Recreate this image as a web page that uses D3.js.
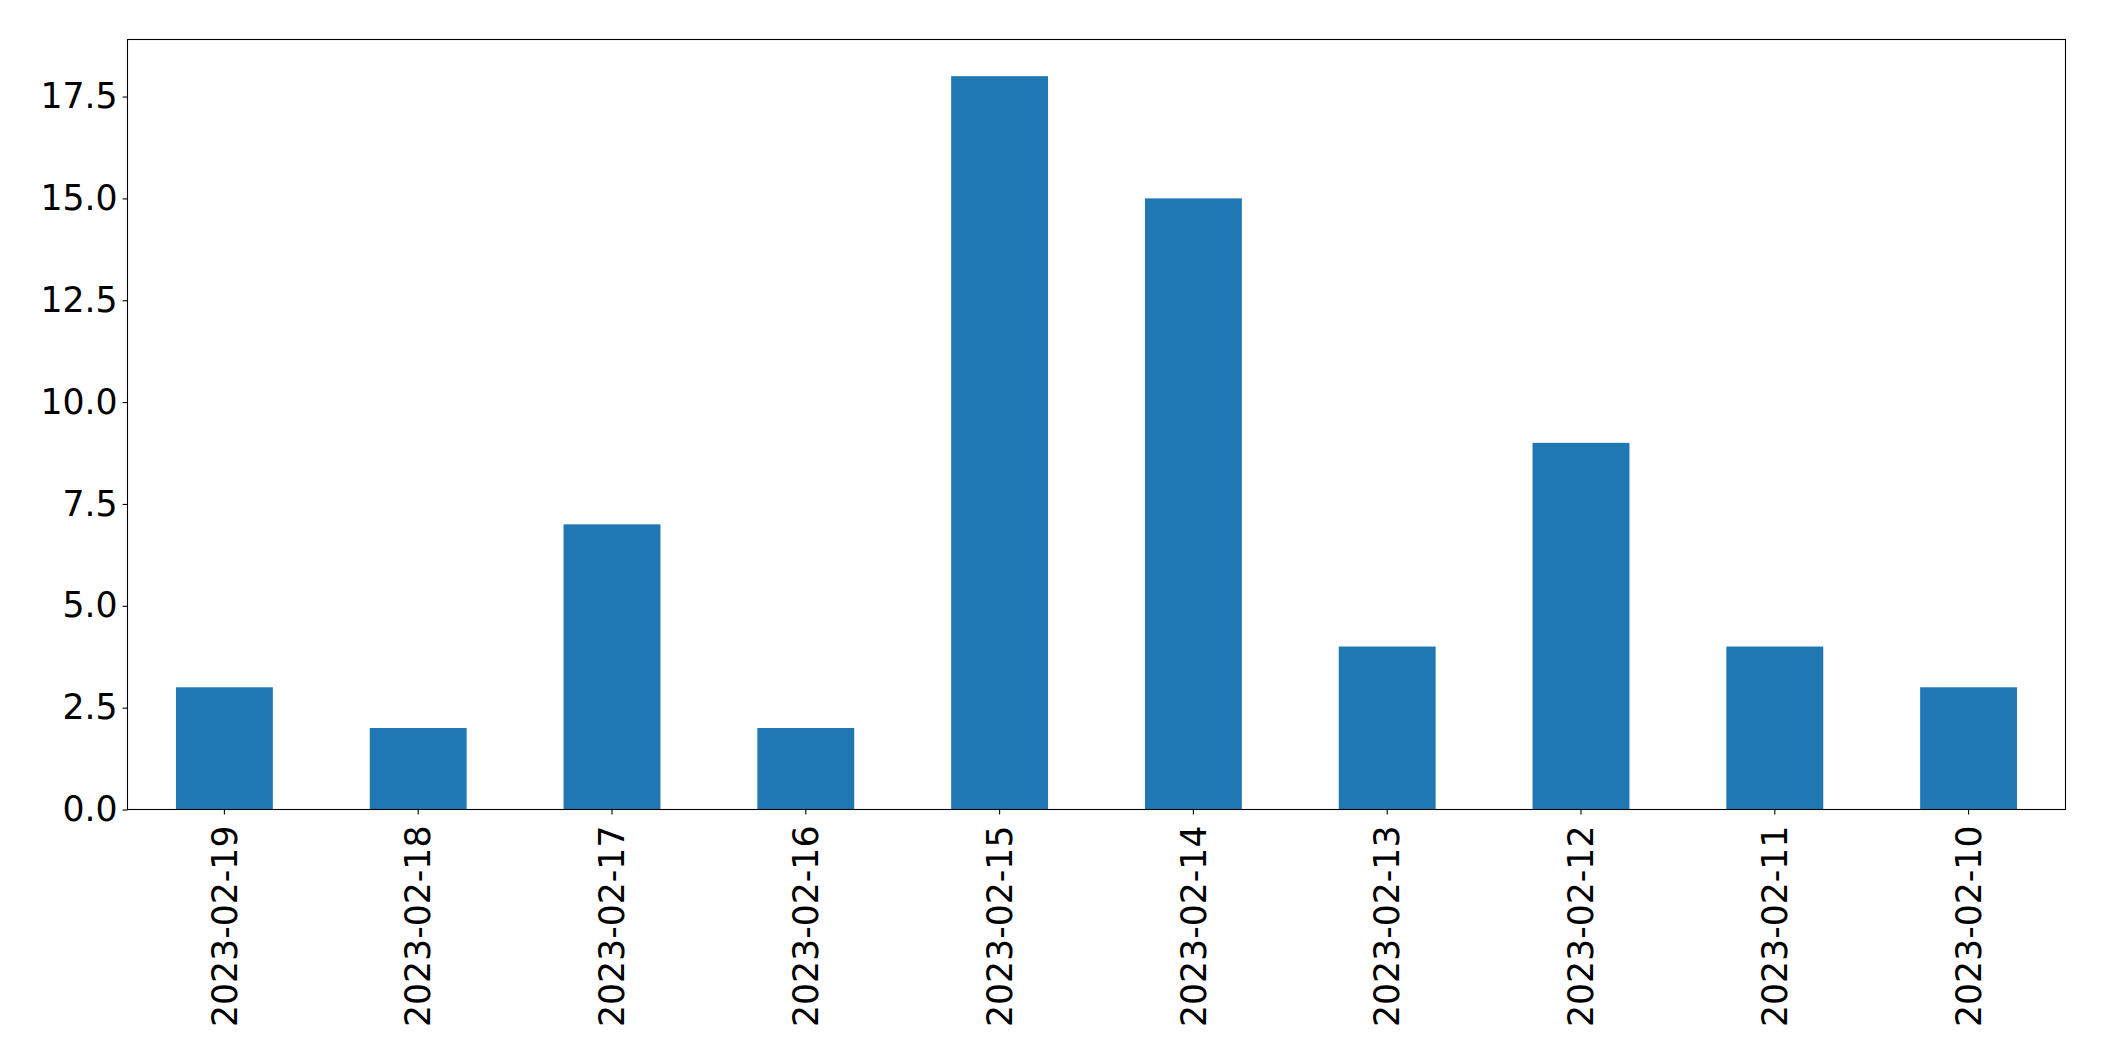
<!DOCTYPE html>
<html>
  <head>
    <meta charset="utf-8">
    <title></title>
    <style>
      body {
        margin: 0;
        background: #fff;
        font-family: "DejaVu Sans", sans-serif;
      }
      svg {
        display: block;
      }
      .axis text {
        font-family: "DejaVu Sans", sans-serif;
        font-size: 34.7px;
        fill: #000;
      }
      .axis line, .axis path {
        stroke: #000;
        stroke-width: 1.1;
      }
    </style>
  </head>
  <body>
    <div id="chart"></div>
    <script src="https://cdn.jsdelivr.net/npm/d3@7"></script>
    <script>
      let dates = ['2023-02-19', '2023-02-18', '2023-02-17', '2023-02-16', '2023-02-15',
                   '2023-02-14', '2023-02-13', '2023-02-12', '2023-02-11', '2023-02-10'];
      let counts = [3, 2, 7, 2, 18, 15, 4, 9, 4, 3];
      let yTicks = [0, 2.5, 5, 7.5, 10, 12.5, 15, 17.5];

      let elWidth = 2104;
      let elHeight = 1061;
      let margin = {top: 39.5, right: 38.5, bottom: 251.5, left: 127.5};
      let width = elWidth - margin.left - margin.right;
      let height = elHeight - margin.top - margin.bottom;

      let svg = d3.select('#chart').append('svg')
        .attr('width', elWidth)
        .attr('height', elHeight);

      let g = svg.append('g').attr('transform', 'translate(' + margin.left + ',' + margin.top + ')');

      let x = d3.scaleBand()
        .domain(dates)
        .range([0, width])
        .paddingInner(0.5)
        .paddingOuter(0.25);

      let y = d3.scaleLinear()
        .domain([0, d3.max(counts) * 1.05])
        .range([height, 0]);

      g.selectAll('rect.bar')
        .data(dates)
        .enter().append('rect')
        .attr('class', 'bar')
        .attr('x', d => x(d))
        .attr('width', x.bandwidth())
        .attr('y', (d, i) => y(counts[i]))
        .attr('height', (d, i) => y(0) - y(counts[i]))
        .attr('fill', '#1f77b4');

      g.append('g')
        .attr('class', 'axis axis-left')
        .call(d3.axisLeft(y).tickValues(yTicks).tickFormat(d3.format('.1f')).tickSize(4.9).tickPadding(5))
        .call(a => a.select('.domain').remove());

      let xAxis = g.append('g')
        .attr('class', 'axis axis-bottom')
        .attr('transform', 'translate(0,' + height + ')')
        .call(d3.axisBottom(x).tickSize(4.9).tickPadding(5))
        .call(a => a.select('.domain').remove());

      xAxis.selectAll('text')
        .attr('text-anchor', 'end')
        .attr('y', 0)
        .attr('dy', '0.35em')
        .attr('transform', 'translate(0,16) rotate(-90)');

      // frame round the plot
      g.append('rect')
        .attr('width', width)
        .attr('height', height)
        .attr('fill', 'none')
        .attr('stroke', '#000')
        .attr('stroke-width', 1.1);
    </script>
  </body>
</html>
